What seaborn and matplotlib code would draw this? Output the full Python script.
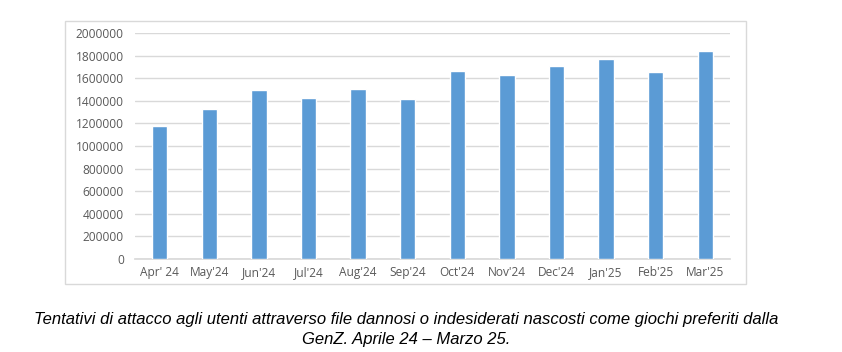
import matplotlib
matplotlib.use("Agg")
import matplotlib.pyplot as plt
import pandas as pd
import seaborn as sns
from matplotlib.patches import Rectangle

months = ["Apr' 24", "May'24", "Jun'24", "Jul'24", "Aug'24", "Sep'24",
          "Oct'24", "Nov'24", "Dec'24", "Jan'25", "Feb'25", "Mar'25"]
attacks = [1180000, 1325000, 1495000, 1427000, 1505000, 1415000,
           1665000, 1625000, 1707000, 1770000, 1657000, 1843000]
y_ticks = [0, 200000, 400000, 600000, 800000, 1000000,
           1200000, 1400000, 1600000, 1800000, 2000000]
caption = ("Tentativi di attacco agli utenti attraverso file dannosi o indesiderati nascosti come giochi preferiti dalla\n"
           "GenZ. Aprile 24 \u2013 Marzo 25.")

df = pd.DataFrame({"Mese": months, "Tentativi": attacks})

sns.set_theme(style="white")
plt.rcParams['font.family'] = ['Open Sans', 'DejaVu Sans']

fig = plt.figure(figsize=(8.42, 3.52), dpi=100)
ax = fig.add_axes([0.1603, 0.2642, 0.7067, 0.642])

# cornice grigia attorno al grafico
fig.patches.append(Rectangle((65 / 842, 1 - 284 / 352), (746 - 65) / 842, (284 - 21) / 352,
                             transform=fig.transFigure, fill=False, edgecolor="#d9d9d9",
                             linewidth=1.0, zorder=0))

sns.barplot(data=df, x="Mese", y="Tentativi", color="#5b9bd5", width=0.31,
            saturation=1, ax=ax, zorder=3)

ax.set_ylim(0, 2000000)
ax.set_yticks(y_ticks)
ax.set_yticklabels([str(v) for v in y_ticks])
ax.yaxis.grid(True, color="#d9d9d9", linewidth=1.0, zorder=0)
ax.set_axisbelow(True)
for s in ["top", "left", "right"]:
    ax.spines[s].set_visible(False)
ax.spines["bottom"].set_color("#d9d9d9")
ax.set_xlabel("")
ax.set_ylabel("")
ax.tick_params(axis="both", length=0, labelsize=8.6, labelcolor="#595959")
ax.tick_params(axis="y", pad=8)
ax.tick_params(axis="x", pad=5)

fig.text(0.483, 0.064, caption, ha="center", va="center", fontsize=12,
         style="italic", family=["Liberation Sans Narrow", "Liberation Sans", "DejaVu Sans"],
         linespacing=1.4, color="black")

fig.savefig("out.png", dpi=100)
